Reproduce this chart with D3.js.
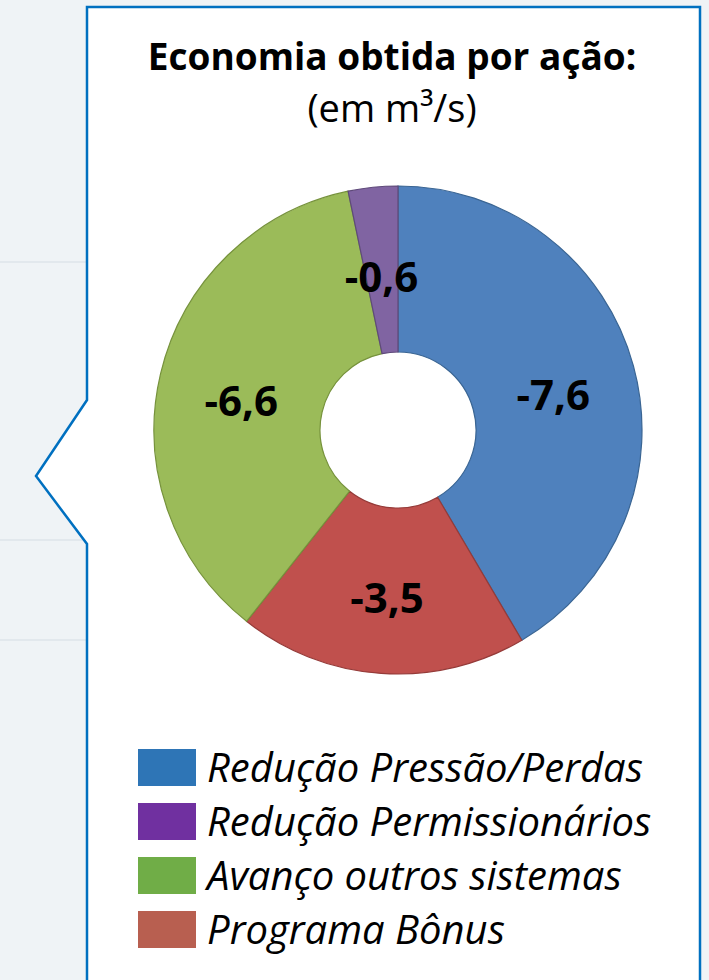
<!DOCTYPE html>
<html>
<head>
<meta charset="utf-8">
<script src="https://cdn.jsdelivr.net/npm/d3@7"></script>
<style>
  html, body { margin: 0; padding: 0; background: #eef2f5; }
  svg { display: block; }
</style>
</head>
<body>
<section></section>
<script>
// dados do gráfico (m³/s)
const categories = ["Redução Pressão/Perdas", "Programa Bônus", "Avanço outros sistemas", "Redução Permissionários"];
const values = [-7.6, -3.5, -6.6, -0.6];
const legendOrder = ["Redução Pressão/Perdas", "Redução Permissionários", "Avanço outros sistemas", "Programa Bônus"];

const width = 709;
const height = 980;

const sliceColor = d3.scaleOrdinal()
    .domain(categories)
    .range(["#4f81bd", "#c0504d", "#9bbb59", "#8064a2"]);
const sliceStroke = d3.scaleOrdinal()
    .domain(categories)
    .range(["#3a6593", "#953b39", "#76923c", "#5f4a7a"]);
const legendColor = d3.scaleOrdinal()
    .domain(categories)
    .range(["#2e75b6", "#b85f50", "#70ad47", "#7030a0"]);

const svg = d3.select("section")
    .append("svg")
    .attr("width", width)
    .attr("height", height);

// fundo claro
svg.append("rect")
    .attr("width", width)
    .attr("height", height)
    .attr("fill", "#eff3f6");

// faixas suaves do fundo
[262, 540, 640].forEach(y => {
    svg.append("line")
        .attr("x1", 0).attr("x2", 87)
        .attr("y1", y).attr("y2", y)
        .attr("stroke", "#e2e8ed")
        .attr("stroke-width", 2);
});

// balão (callout)
const box = { left: 87, top: 7, right: 700, bottom: 1000, notchTop: 400, notchBottom: 544, tipX: 36, tipY: 476 };
const callout = d3.path();
callout.moveTo(box.left, box.top);
callout.lineTo(box.right, box.top);
callout.lineTo(box.right, box.bottom);
callout.lineTo(box.left, box.bottom);
callout.lineTo(box.left, box.notchBottom);
callout.lineTo(box.tipX, box.tipY);
callout.lineTo(box.left, box.notchTop);
callout.closePath();

svg.append("path")
    .attr("d", callout.toString())
    .attr("fill", "#ffffff")
    .attr("stroke", "#0070c0")
    .attr("stroke-width", 2.5)
    .attr("stroke-linejoin", "miter");

// título
const title = svg.append("text")
    .attr("text-anchor", "middle")
    .attr("font-family", "'Open Sans', sans-serif")
    .attr("fill", "#000");
title.append("tspan")
    .attr("x", 392).attr("y", 70)
    .attr("font-size", 37)
    .attr("font-weight", "bold")
    .text("Economia obtida por ação:");
title.append("tspan")
    .attr("x", 392).attr("y", 122)
    .attr("font-size", 38)
    .text("(em m³/s)");

// rosca
const cx = 398, cy = 430;
const outerR = 244, innerR = 78;

const pie = d3.pie()
    .value(d => Math.abs(d.value))
    .sort(null);

const arc = d3.arc()
    .innerRadius(innerR)
    .outerRadius(outerR);

const data = categories.map((c, i) => ({ name: c, value: values[i] }));

const g = svg.append("g")
    .attr("transform", `translate(${cx},${cy})`);

g.selectAll("path")
    .data(pie(data))
    .join("path")
    .attr("d", arc)
    .attr("fill", d => sliceColor(d.data.name))
    .attr("stroke", d => sliceStroke(d.data.name))
    .attr("stroke-width", 1.2);

const fmt = v => d3.format(".1f")(v).replace("−", "-").replace(".", ",");

g.selectAll("text")
    .data(pie(data))
    .join("text")
    .attr("transform", d => {
        const [x, y] = arc.centroid(d);
        return `translate(${x},${y + 6})`;
    })
    .attr("text-anchor", "middle")
    .attr("dominant-baseline", "central")
    .attr("font-family", "'Open Sans', sans-serif")
    .attr("font-weight", "bold")
    .attr("font-size", 42)
    .attr("fill", "#000")
    .text(d => fmt(d.data.value));

// legenda
const legend = svg.append("g")
    .attr("transform", "translate(138, 749)");

const item = legend.selectAll("g")
    .data(legendOrder)
    .join("g")
    .attr("transform", (d, i) => `translate(0, ${i * 54})`);

item.append("rect")
    .attr("width", 58)
    .attr("height", 37)
    .attr("fill", d => legendColor(d));

item.append("text")
    .attr("x", 69)
    .attr("y", 33)
    .attr("font-family", "'Open Sans', sans-serif")
    .attr("font-style", "italic")
    .attr("font-size", 40)
    .attr("fill", "#000")
    .text(d => d);
</script>
</body>
</html>
